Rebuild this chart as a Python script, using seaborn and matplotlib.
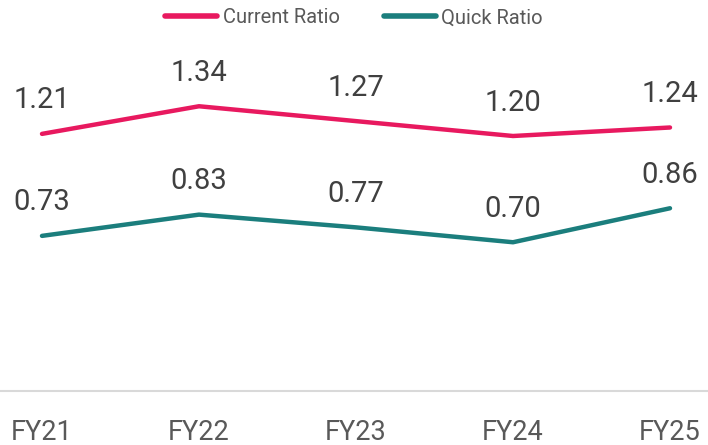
import matplotlib
matplotlib.use("Agg")
import matplotlib.pyplot as plt
import seaborn as sns
import pandas as pd

years = ["FY21", "FY22", "FY23", "FY24", "FY25"]
current_ratio = [1.21, 1.34, 1.27, 1.20, 1.24]
quick_ratio = [0.73, 0.83, 0.77, 0.70, 0.86]
series_names = ["Current Ratio", "Quick Ratio"]
colors = ["#E8195F", "#1B7E7D"]

sns.set_theme(style="white")
plt.rcParams['font.family'] = ['Roboto', 'DejaVu Sans']

df = pd.DataFrame({
    "Year": years * 2,
    "Value": current_ratio + quick_ratio,
    "Series": [series_names[0]] * len(years) + [series_names[1]] * len(years),
})
df["x"] = list(range(len(years))) * 2

fig = plt.figure(figsize=(7.08, 4.45), dpi=100)
ax = fig.add_axes([0, 1 - 391 / 445, 1, 340 / 445])

sns.lineplot(data=df, x="x", y="Value", hue="Series", palette=colors,
             linewidth=3.2, ax=ax, legend=False, solid_capstyle="round")

for vals in (current_ratio, quick_ratio):
    for i, v in enumerate(vals):
        ax.annotate(f"{v:.2f}", (i, v), xytext=(0, 14), textcoords="offset points",
                    ha="center", va="bottom", fontsize=21, color="#404040")

ax.set_xlim(-42 / 157, 4 + 38 / 157)
ax.set_ylim(0, 1.6)
ax.set_xticks(range(len(years)))
ax.set_xticklabels(years, fontsize=19.5, color="#595959")
ax.tick_params(axis="x", length=0, pad=20)
ax.set_yticks([])
ax.set_xlabel("")
ax.set_ylabel("")
for s in ["top", "left", "right"]:
    ax.spines[s].set_visible(False)
ax.spines["bottom"].set_color("#D9D9D9")
ax.spines["bottom"].set_linewidth(1.5)

from matplotlib.lines import Line2D
handles = [Line2D([0], [0], color=c, linewidth=4, solid_capstyle="round") for c in colors]
leg = fig.legend(handles, series_names, loc="upper center", bbox_to_anchor=(0.5, 1.022),
                 ncol=2, frameon=False, fontsize=14.5, handlelength=2.6, handletextpad=0.25,
                 columnspacing=2.2)
for t in leg.get_texts():
    t.set_color("#595959")

fig.savefig("out.png", dpi=100)
